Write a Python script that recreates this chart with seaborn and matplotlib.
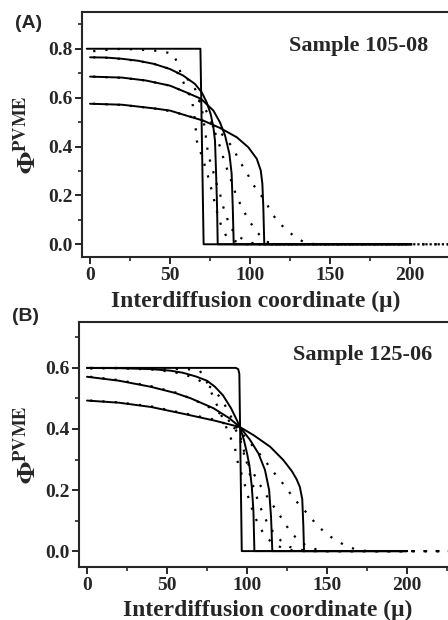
import seaborn as sns
import matplotlib.pyplot as plt
from matplotlib.ticker import MultipleLocator

# ---- Sample 105-08 (panel A) ----
# fitted model profiles (solid)
a_fit1_x = [-2, 69, 71, 200]
a_fit1_y = [0.80, 0.80, 0.0, 0.0]
a_fit2_x = [0, 10, 20, 30, 40, 50, 58.3, 65.6, 69.8, 72.9, 75.4, 77.1, 78.1, 78.8, 79.4, 79.8, 200]
a_fit2_y = [0.765, 0.764, 0.759, 0.751, 0.738, 0.717, 0.690, 0.656, 0.622, 0.581, 0.533, 0.479, 0.424, 0.289, 0.152, 0.0, 0.0]
a_fit3_x = [0, 20, 35, 50, 60, 69.4, 77.1, 81.2, 84.4, 87.1, 88.5, 89.2, 89.8, 200]
a_fit3_y = [0.686, 0.682, 0.670, 0.649, 0.622, 0.595, 0.547, 0.499, 0.445, 0.370, 0.289, 0.152, 0.0, 0.0]
a_fit4_x = [0, 20, 40, 50, 62.5, 70.8, 81.2, 91.7, 98.9, 104.2, 106.7, 107.7, 108.3, 108.9, 200]
a_fit4_y = [0.575, 0.571, 0.556, 0.547, 0.522, 0.506, 0.476, 0.438, 0.397, 0.350, 0.302, 0.248, 0.152, 0.0, 0.0]
# measured profiles (dotted)
a_dat1_x = [2, 10, 20, 35, 45, 52, 55, 58, 60.4, 63.5, 64.6, 65.6, 66.7, 70.8, 73.9, 77.1, 80.2, 82.3, 85.4, 91.7, 98, 250]
a_dat1_y = [0.79, 0.795, 0.80, 0.795, 0.79, 0.778, 0.737, 0.669, 0.629, 0.595, 0.554, 0.506, 0.424, 0.343, 0.275, 0.193, 0.111, 0.071, 0.03, 0.01, 0.0, 0.0]
a_dat2_x = [2, 10, 20, 30, 40, 50, 58, 63, 67, 70, 72, 73.9, 76, 78.5, 81.2, 83.3, 85.5, 87.5, 91.7, 98, 105, 250]
a_dat2_y = [0.765, 0.763, 0.758, 0.75, 0.738, 0.717, 0.69, 0.665, 0.62, 0.55, 0.46, 0.363, 0.322, 0.26, 0.207, 0.152, 0.11, 0.071, 0.037, 0.01, 0.0, 0.0]
a_dat3_x = [2, 20, 35, 50, 60, 66, 70, 74, 78, 81.2, 84.4, 87.5, 90.6, 93.8, 97, 100, 104.2, 110.4, 117, 250]
a_dat3_y = [0.686, 0.681, 0.67, 0.649, 0.622, 0.6, 0.575, 0.53, 0.46, 0.40, 0.33, 0.275, 0.215, 0.166, 0.125, 0.091, 0.05, 0.01, 0.0, 0.0]
a_dat4_x = [2, 20, 40, 50, 60, 70, 78, 84, 87.5, 90.6, 93.8, 97.9, 101, 105.2, 109.4, 112.5, 116.7, 121.9, 128.1, 134.4, 141, 250]
a_dat4_y = [0.575, 0.57, 0.556, 0.545, 0.528, 0.507, 0.478, 0.44, 0.41, 0.377, 0.336, 0.295, 0.254, 0.213, 0.18, 0.139, 0.098, 0.064, 0.03, 0.006, 0.0, 0.0]

# ---- Sample 125-06 (panel B) ----
b_fit1_x = [0, 93, 94.5, 95.2, 96.7, 200]
b_fit1_y = [0.60, 0.60, 0.596, 0.58, 0.0, 0.0]
b_fit2_x = [0, 20, 40, 52, 60, 68, 75, 80, 85, 90, 94, 96, 98, 100, 101.5, 103, 104, 104.6, 200]
b_fit2_y = [0.60, 0.599, 0.596, 0.591, 0.584, 0.572, 0.558, 0.538, 0.51, 0.468, 0.425, 0.398, 0.365, 0.32, 0.28, 0.21, 0.13, 0.0, 0.0]
b_fit3_x = [0, 20, 40, 55, 65, 79, 89, 95.6, 101.9, 107.1, 111.2, 113.8, 115, 115.8, 200]
b_fit3_y = [0.571, 0.558, 0.538, 0.518, 0.50, 0.468, 0.435, 0.406, 0.364, 0.32, 0.266, 0.20, 0.112, 0.0, 0.0]
b_fit4_x = [0, 20, 40, 60, 80, 95.6, 104, 114.4, 122.7, 128, 131, 133, 134.5, 135.2, 135.6, 200]
b_fit4_y = [0.493, 0.486, 0.472, 0.45, 0.427, 0.406, 0.38, 0.342, 0.298, 0.262, 0.235, 0.21, 0.17, 0.08, 0.0, 0.0]
b_dat1_x = [2, 20, 40, 55, 65, 70.6, 74.8, 77.9, 83, 87.3, 89.4, 92.5, 93.5, 95.5, 97.7, 100, 103, 106, 110, 115, 122, 130, 250]
b_dat1_y = [0.598, 0.60, 0.598, 0.597, 0.595, 0.59, 0.555, 0.517, 0.457, 0.402, 0.375, 0.337, 0.304, 0.27, 0.235, 0.19, 0.14, 0.10, 0.06, 0.03, 0.01, 0.0, 0.0]
b_dat2_x = [2, 20, 40, 52, 60, 68, 75, 80, 85, 89, 93, 96, 98.5, 101, 104, 106.5, 109, 112, 116, 121, 127, 135, 142, 250]
b_dat2_y = [0.60, 0.599, 0.595, 0.588, 0.58, 0.565, 0.545, 0.525, 0.49, 0.45, 0.41, 0.37, 0.32, 0.266, 0.21, 0.17, 0.135, 0.10, 0.065, 0.035, 0.013, 0.003, 0.0, 0.0]
b_dat3_x = [2, 20, 40, 55, 65, 75, 85, 90, 95, 99, 103, 106.5, 110.2, 113.5, 117.5, 121.7, 125.8, 130, 136.3, 143.5, 150, 250]
b_dat3_y = [0.571, 0.56, 0.54, 0.52, 0.50, 0.475, 0.445, 0.42, 0.38, 0.30, 0.266, 0.23, 0.20, 0.17, 0.14, 0.107, 0.074, 0.047, 0.02, 0.005, 0.0, 0.0]
b_dat4_x = [2, 20, 40, 60, 80, 90, 96, 101, 106, 111, 115.4, 120.6, 124.8, 129, 134, 139.4, 144.6, 150.8, 156, 163, 168.5, 175, 250]
b_dat4_y = [0.493, 0.487, 0.474, 0.452, 0.43, 0.41, 0.39, 0.36, 0.33, 0.298, 0.266, 0.233, 0.206, 0.173, 0.145, 0.112, 0.08, 0.052, 0.034, 0.014, 0.005, 0.0, 0.0]

x_ticks = [0, 50, 100, 150, 200]

sns.set_style('ticks')
plt.rcParams['font.family'] = ['Liberation Serif', 'DejaVu Serif']
plt.rcParams['font.weight'] = 'bold'
plt.rcParams['mathtext.fontset'] = 'stix'

fig = plt.figure(figsize=(4.48, 6.2), dpi=100)
# axes run past the right edge of the figure, like the cropped original
axA = fig.add_axes([0.183, 0.5855, 0.911, 0.395])
axB = fig.add_axes([0.1763, 0.0855, 0.911, 0.395])

panels = [
    (axA, [(a_fit1_x, a_fit1_y), (a_fit2_x, a_fit2_y), (a_fit3_x, a_fit3_y), (a_fit4_x, a_fit4_y)],
     [(a_dat1_x, a_dat1_y), (a_dat2_x, a_dat2_y), (a_dat3_x, a_dat3_y), (a_dat4_x, a_dat4_y)],
     0.95, 0.8, 'Sample 105-08', 0.678, 0.861),
    (axB, [(b_fit1_x, b_fit1_y), (b_fit2_x, b_fit2_y), (b_fit3_x, b_fit3_y), (b_fit4_x, b_fit4_y)],
     [(b_dat1_x, b_dat1_y), (b_dat2_x, b_dat2_y), (b_dat3_x, b_dat3_y), (b_dat4_x, b_dat4_y)],
     0.75, 0.6, 'Sample 125-06', 0.695, 0.865),
]

for ax, fits, dats, ytop, ymax, sample, sx, sy in panels:
    for x, y in dats:
        sns.lineplot(x=x, y=y, ax=ax, color='black', lw=1.6, sort=False, estimator=None,
                     linestyle=(0, (1, 4.5)))
    for x, y in fits:
        sns.lineplot(x=x, y=y, ax=ax, color='black', lw=1.4, sort=False, estimator=None)

    ax.set_xlim(-5, 250)
    ax.set_ylim(-0.052, ytop)
    ax.set_xticks(x_ticks)
    ax.set_yticks([round(v * 0.2, 1) for v in range(int(round(ymax / 0.2)) + 1)])
    ax.xaxis.set_minor_locator(MultipleLocator(25))
    ax.yaxis.set_minor_locator(MultipleLocator(0.1))
    ax.yaxis.set_major_formatter(plt.FormatStrFormatter('%.1f'))
    ax.tick_params(which='major', direction='out', length=5, width=1.4, labelsize=14, pad=2)
    ax.tick_params(which='minor', direction='out', length=3, width=1.2)
    for lab in ax.get_xticklabels() + ax.get_yticklabels():
        lab.set_fontweight('bold')
    for sp in ax.spines.values():
        sp.set_linewidth(1.5)
        sp.set_visible(True)

    ax.set_xlabel('Interdiffusion coordinate (\u03bc)', fontsize=17, fontweight='bold')
    ax.set_ylabel(r'$\mathbf{\Phi}^{\mathbf{PVME}}$', fontsize=19, fontweight='bold')
    ax.text(sx, sy, sample, transform=ax.transAxes, fontsize=16, fontweight='bold',
            ha='center', va='center')

axA.xaxis.set_label_coords(0.426, -0.14)
axB.xaxis.set_label_coords(0.462, -0.132)
axA.yaxis.set_label_coords(-0.1, 0.5)
axB.yaxis.set_label_coords(-0.093, 0.5)

fig.text(0.063, 0.962, '(A)', family='Liberation Sans', fontsize=14, fontweight='bold',
         ha='center', va='center')
fig.text(0.058, 0.49, '(B)', family='Liberation Sans', fontsize=14, fontweight='bold',
         ha='center', va='center')

fig.savefig('out.png', dpi=100)
